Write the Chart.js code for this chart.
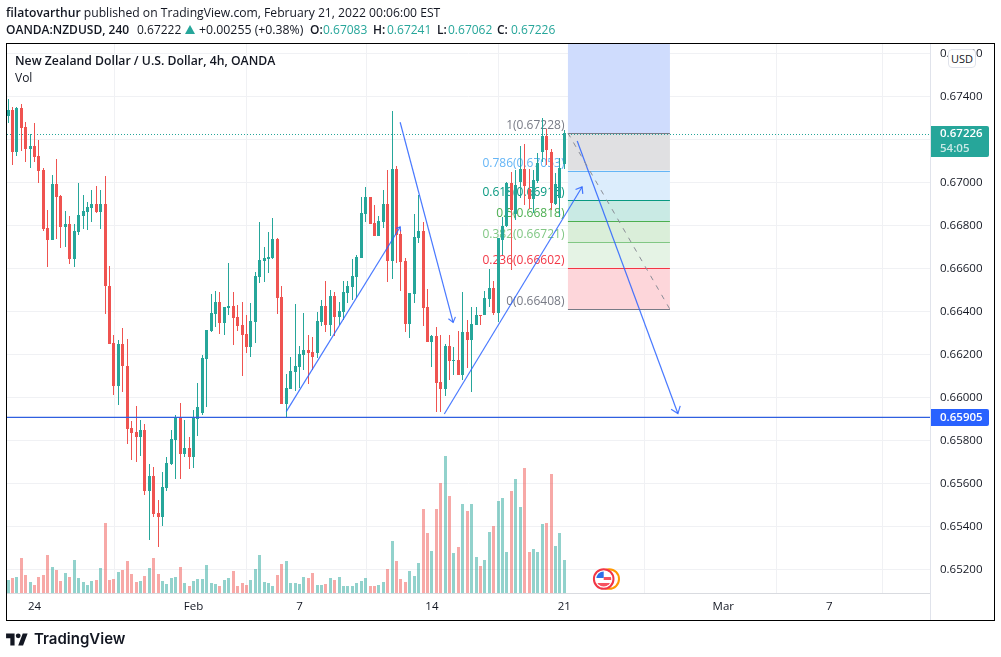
<!DOCTYPE html>
<html><head><meta charset="utf-8">
<script src="https://cdn.jsdelivr.net/npm/chart.js@4"></script>
<style>
html,body{margin:0;padding:0;background:#fff;width:1001px;height:657px;overflow:hidden}
body{font-family:"Open Sans",sans-serif;color:#131722;position:relative}
canvas{position:absolute;left:0;top:0}
.t{position:absolute;white-space:nowrap;line-height:16px}
.r{position:absolute;top:22px;white-space:nowrap;line-height:16px;font-size:12px}
#frame{position:absolute;left:6px;top:43px;width:989px;height:578px;box-sizing:border-box;border:1px solid #000;pointer-events:none}
#usd{position:absolute;left:948px;top:49px;width:28px;height:19px;box-sizing:border-box;border:1px solid #e0e3eb;border-radius:4px;background:#fff;font-size:11px;line-height:17px;text-align:center;color:#131722}
.g{color:#26a69a}
b{font-weight:600}
#tri{position:absolute;left:185px;top:25px;width:0;height:0;border-left:5px solid transparent;border-right:5px solid transparent;border-bottom:9px solid #26a69a}
</style></head><body>
<canvas id="c" width="1001" height="657"></canvas>
<div class="t" style="left:6px;top:5px;font-size:12.15px;"><b>filatovarthur</b> published on TradingView.com, February 21, 2022 00:06:00 EST</div>
<div class="r" style="left:6px"><b>OANDA:NZDUSD, 240</b></div>
<div class="r" style="left:137px">0.67222</div>
<div id="tri"></div>
<div class="r" style="left:199px;font-size:12.3px">+0.00255 (+0.38%)</div>
<div class="r" style="left:310px"><b>O:</b></div><div class="r g" style="left:323px">0.67083</div>
<div class="r" style="left:373px"><b>H:</b></div><div class="r g" style="left:387px">0.67241</div>
<div class="r" style="left:437px"><b>L:</b></div><div class="r g" style="left:448px">0.67062</div>
<div class="r" style="left:497px"><b>C:</b></div><div class="r g" style="left:511px">0.67226</div>
<div class="t" style="left:15px;top:53px;font-size:12.24px;"><b>New Zealand Dollar / U.S. Dollar, 4h, OANDA</b></div>
<div class="t" style="left:15px;top:70px;font-size:12px;">Vol</div>
<div id="frame"></div>
<div id="usd">USD</div>
<svg style="position:absolute;left:6px;top:631px" width="22" height="17" viewBox="0 0 36 28"><path fill="#131722" d="M14 24H7V12H0V4h14v20zM28 24h-8l7.5-20h8L28 24z"/><circle fill="#131722" cx="20" cy="8" r="4"/></svg>
<div class="t" style="left:34px;top:630px;font-family:Inter,sans-serif;font-weight:600;font-size:15px;line-height:18px;color:#131722">TradingView</div>
<script>
// Prices are in units of 0.00001
const opens=[67309,67335,67141,67344,67256,67154,67168,67121,67056,66786,
66732,66991,66935,66793,66805,66644,66769,66844,66862,66881,
66898,66862,66898,66517,66252,66053,66247,66145,65856,65837,
65814,65846,65563,65633,65461,65442,65577,65688,65800,65907,
65735,65763,65721,65898,65926,66177,66307,66386,66442,66345,
66414,66424,66372,66335,66293,66233,66349,66558,66633,66642,
66647,66735,66465,65968,66038,66117,66141,66196,66219,66210,
66203,66349,66424,66335,66470,66372,66396,66484,66512,66558,
66648,66851,66930,66810,66749,66814,66898,66633,67061,66758,
66633,66340,66479,66740,66772,66419,66256,66284,66070,66038,
66238,66168,66172,66103,66303,66266,66335,66382,66382,66456,
66507,66391,66730,66795,66994,66849,67000,67060,66966,66919,
67006,67138,67215,67141,66900,66924,67083];
const highs=[67386,67347,67347,67363,67278,67222,67275,67196,67065,66870,
67033,67107,66940,66865,66842,66805,66996,66940,66907,66963,
66982,66963,67028,66610,66289,66265,66321,66270,65888,65958,
65893,65874,65688,65674,65521,65651,65721,65846,65916,65972,
65893,65814,65940,66065,66195,66311,66479,66493,66489,66419,
66624,66489,66428,66442,66382,66438,66582,66814,66698,66768,
66833,66740,66517,66107,66186,66433,66238,66391,66289,66281,
66397,66452,66540,66498,66489,66442,66540,66540,66642,66661,
66929,66977,66930,66893,66842,66963,67056,67330,67075,66777,
66647,66484,66851,66940,66814,66501,66289,66326,66289,66247,
66289,66234,66307,66489,66358,66419,66419,66382,66492,66596,
66540,66738,66839,67001,67048,67055,67167,67176,67059,67055,
67136,67296,67245,67152,67040,67110,67241];
const lows=[67276,67081,67123,67146,67095,67067,67095,66997,66774,66607,
66732,66737,66695,66700,66620,66607,66755,66783,66779,66816,
66856,66783,66388,66248,66010,65963,66025,65782,65707,65698,
65726,65544,65335,65442,65302,65400,65563,65684,65619,65619,
65721,65665,65670,65819,65916,65953,66303,66326,66293,66289,
66382,66242,66307,66098,66205,66186,66252,66531,66535,66577,
66642,66386,65968,65901,66038,66030,66041,66126,66061,66126,
66180,66331,66303,66284,66284,66335,66358,66436,66452,66459,
66648,66814,66805,66749,66749,66786,66535,66549,66622,66493,
66303,66275,66439,66715,66328,66255,66138,65931,65931,66005,
66080,66103,66103,66080,66134,66024,66335,66335,66382,66420,
66382,66349,66660,66792,66590,66823,66924,66893,66873,66854,
66994,67094,67079,66870,66893,66839,67062];
const closes=[67335,67141,67344,67253,67155,67168,67118,67053,66783,66732,
66991,66932,66793,66805,66644,66772,66847,66865,66884,66898,
66862,66898,66514,66248,66053,66247,66142,65852,65833,65814,
65846,65563,65633,65456,65442,65581,65693,65805,65907,65735,
65763,65721,65907,65953,66181,66311,66391,66442,66345,66419,
66424,66368,66331,66289,66233,66354,66563,66638,66647,66651,
66735,66461,65968,66042,66121,66145,66200,66219,66203,66188,
66354,66424,66335,66470,66374,66400,66489,66517,66563,66651,
66856,66930,66805,66749,66819,66898,66633,67061,66754,66628,
66340,66484,66744,66772,66414,66255,66284,66066,66038,66238,
66168,66172,66103,66303,66266,66340,66382,66377,66461,66507,
66391,66738,66795,66997,66870,66984,67060,66981,66919,67009,
67090,67215,67148,66904,66989,67063,67226];
const volumes=[39,45,48,105,54,33,24,48,54,114,
78,69,36,60,48,99,45,33,24,36,
39,75,210,39,42,63,69,96,57,33,
36,51,75,105,57,36,27,45,48,78,
30,21,36,42,42,84,30,27,21,39,
45,66,21,30,24,39,72,114,33,30,
21,54,87,96,30,30,27,48,45,60,
24,24,27,45,39,48,21,21,21,30,
36,45,21,21,24,33,72,156,96,42,
33,66,51,90,252,180,126,252,330,411,
291,120,138,267,246,267,108,81,99,183,
201,276,285,123,306,342,258,375,123,132,
123,207,210,357,141,180,99];
const xTickIndex=[6,42,66,96,126,162,186];
const xTickLabels=['24','Feb','7','14','21','Mar','7'];
const yTickValues=[67600,67400,67200,67000,66800,66600,66400,66200,66000,65800,65600,65400,65200];
const lastPrice=67226, supportPrice=65905, countdown='54:05';
const fibStart=126.7, fibEnd=149.8;
const fibRatios=['1','0.786','0.618','0.5','0.382','0.236','0'];
const fibPrices=[67228,67053,66915,66818,66721,66602,66408];
const fibLineColors=['#787b86','#64b5f6','#089981','#4caf50','#81c784','#f23645','#787b86'];
const fibFills=['#cfdcfd','#e0e0e2','#dcedfc','#c9eae4','#daeed9','#e5f3e5','#fdd6da'];
const arrowA=[{x:62.9,y:65932},{x:88.7,y:66791}];
const arrowB=[{x:88.7,y:67278},{x:100.7,y:66347}];
const arrowC=[{x:98.7,y:65921},{x:129.9,y:66977}];
const arrowD=[{x:128.8,y:67191},{x:151.6,y:65923}];
const fibDiagonal=[{x:fibStart,y:67228},{x:fibEnd,y:66408}];
const arrowHeads=[4.5,6,7,8];

const UP='#26a69a',DOWN='#ef5350',BLUE='#2962ff';
const XMIN=-0.34,XMAX=208.7,YMIN=65088.4,YMAX=67641.9,VMAX=1647;
const FONT='"Open Sans",sans-serif';
const idx=opens.map((_,i)=>i);
const col=idx.map(i=>closes[i]>=opens[i]?UP:DOWN);
const volCol=idx.map(i=>closes[i]>=opens[i]?'rgba(38,166,154,0.5)':'rgba(239,83,80,0.5)');

const snap={id:'snap',afterDatasetsUpdate(ch){
  ch.getSortedVisibleDatasetMetas().forEach(m=>{ if(m.type!=='bar')return;
    m.data.forEach(el=>{ el.x=Math.floor(el.x-0.5)+0.5; el.y=Math.round(el.y); el.base=Math.round(el.base);
      if(el.y===el.base) el.base=el.y+1; });
  });
}};
const fib={id:'fib',beforeDatasetsDraw(ch){
  const c=ch.ctx,xs=ch.scales.x,ys=ch.scales.y,a=ch.chartArea;
  const x0=xs.getPixelForValue(fibStart),x1=xs.getPixelForValue(fibEnd);
  c.save();
  const rows=[YMAX].concat(fibPrices);
  for(let i=0;i<fibFills.length;i++){
    const t=ys.getPixelForValue(rows[i]),b=ys.getPixelForValue(rows[i+1]);
    c.fillStyle=fibFills[i]; c.fillRect(x0,t,x1-x0,b-t);
  }
  fibPrices.forEach((p,i)=>{
    const y=Math.round(ys.getPixelForValue(p))+0.5;
    c.strokeStyle=fibLineColors[i]; c.lineWidth=1;
    c.beginPath(); c.moveTo(x0,y); c.lineTo(x1,y); c.stroke();
    c.fillStyle=fibLineColors[i]; c.font='12px '+FONT; c.textAlign='right'; c.textBaseline='middle';
    c.fillText(fibRatios[i]+'('+(p/100000).toFixed(5)+')',x0-3.5,y-7.5);
  });
  // last price dotted line, on a whole pixel row
  const ly=Math.round(ys.getPixelForValue(lastPrice)+0.5)+0.5;
  c.strokeStyle=UP;c.lineWidth=1;c.setLineDash([1,2]);
  c.beginPath();c.moveTo(a.left,ly);c.lineTo(a.right,ly);c.stroke();
  c.restore();
},
afterDraw(ch){
  const c=ch.ctx,xs=ch.scales.x,ys=ch.scales.y,a=ch.chartArea;
  c.save();
  // arrow heads
  [arrowA,arrowB,arrowC,arrowD].forEach((l,k)=>{
    const x1=xs.getPixelForValue(l[1].x),y1=ys.getPixelForValue(l[1].y),
          x0=xs.getPixelForValue(l[0].x),y0=ys.getPixelForValue(l[0].y);
    const ang=Math.atan2(y1-y0,x1-x0),L=arrowHeads[k],W=0.65;
    c.strokeStyle=BLUE;c.globalAlpha=0.85;c.lineWidth=1.2;c.beginPath();
    c.moveTo(x1-L*Math.cos(ang-W),y1-L*Math.sin(ang-W));c.lineTo(x1,y1);
    c.lineTo(x1-L*Math.cos(ang+W),y1-L*Math.sin(ang+W));c.stroke();
  });
  c.globalAlpha=1;
  // axis separators
  c.strokeStyle='#e0e3eb';c.lineWidth=1;
  c.beginPath();c.moveTo(930.5,44);c.lineTo(930.5,620);c.stroke();
  // price labels
  function box(y,h,color){c.fillStyle=color;c.beginPath();c.roundRect(931,y,58,h,[0,2,2,0]);c.fill();}
  const ly=ys.getPixelForValue(lastPrice),sy=ys.getPixelForValue(supportPrice);
  box(Math.round(ly)-7,31,UP);
  c.textAlign='left';c.textBaseline='middle';
  c.fillStyle='#fff';c.font='600 11.5px '+FONT;
  c.fillText((lastPrice/100000).toFixed(5),940,ly+0.5);
  c.fillStyle='rgba(255,255,255,0.75)';c.font='600 11.5px '+FONT;
  c.fillText(countdown,940,ly+15);
  box(Math.round(sy)-8,17,BLUE);
  c.fillStyle='#fff';c.font='600 11.5px '+FONT;
  c.fillText((supportPrice/100000).toFixed(5),940,sy+0.5);
  // event flag
  const fx=xs.getPixelForValue(134.8),fy=a.bottom-14;
  c.lineWidth=2;
  c.strokeStyle='#ff9800';c.fillStyle='#fff';c.beginPath();c.arc(fx+5.5,fy,9.8,0,7);c.fill();c.stroke();
  c.strokeStyle='#f23645';c.beginPath();c.arc(fx,fy,9.8,0,7);c.fill();c.stroke();
  c.save();c.beginPath();c.arc(fx,fy,7.6,0,7);c.clip();
  c.fillStyle='#f7525f';c.fillRect(fx-8,fy+4,16,4);c.fillRect(fx,fy-2,8,3);
  c.fillStyle='#2f6fe8';c.fillRect(fx-8,fy-8,8,7);
  c.restore();
  c.restore();
}};
const wicks={type:'bar',label:'wick',order:3,yAxisID:'y',grouped:false,barThickness:1,borderWidth:0,inflateAmount:0,backgroundColor:col,
  data:idx.map(i=>({x:i,y:[lows[i],highs[i]]}))};
const bodies={type:'bar',label:'body',order:2,yAxisID:'y',grouped:false,barThickness:3,borderWidth:0,inflateAmount:0,backgroundColor:col,
  data:idx.map(i=>({x:i,y:[Math.min(opens[i],closes[i]),Math.max(opens[i],closes[i])]}))};
const vols={type:'bar',label:'Vol',order:5,yAxisID:'v',grouped:false,barThickness:3,borderWidth:0,inflateAmount:0,backgroundColor:volCol,
  data:idx.map(i=>({x:i,y:volumes[i]}))};
const line=(label,data,color,extra)=>Object.assign({type:'line',label,data,yAxisID:'y',order:1,borderColor:color,borderWidth:1,pointRadius:0,fill:false,tension:0,clip:true},extra||{});
new Chart(document.getElementById('c'),{
  type:'bar',
  data:{datasets:[
    vols,wicks,bodies,
    line('support',[{x:XMIN,y:supportPrice},{x:XMAX,y:supportPrice}],'#2f5fe0',{borderWidth:1.2}),
    line('fibDiag',fibDiagonal,'#8a8d96',{borderDash:[5,6]}),
    line('a',arrowA,'rgba(41,98,255,0.85)',{borderWidth:1.2}),
    line('b',arrowB,'rgba(41,98,255,0.85)',{borderWidth:1.2}),
    line('c',arrowC,'rgba(41,98,255,0.85)',{borderWidth:1.2}),
    line('d',arrowD,'rgba(41,98,255,0.85)',{borderWidth:1.2})
  ]},
  plugins:[snap,fib],
  options:{
    responsive:false,animation:false,devicePixelRatio:1,
    layout:{padding:{left:7,top:44,right:0,bottom:0}},
    plugins:{legend:{display:false},tooltip:{enabled:false}},
    interaction:{mode:null},
    font:{family:FONT},
    scales:{
      x:{type:'linear',position:'bottom',offset:false,min:XMIN,max:XMAX,
        afterBuildTicks(s){s.ticks=xTickIndex.map(v=>({value:v}));},
        afterFit(s){s.height=64;},
        grid:{color:'#f0f1f4',drawTicks:false},
        border:{color:'#d9dbe0'},
        ticks:{padding:7,maxRotation:0,autoSkip:false,labelOffset:-0.5,color:'#131722',font:{family:FONT,size:11.5},
          callback(v){const k=xTickIndex.indexOf(v);return k>=0?xTickLabels[k]:'';}}},
      y:{type:'linear',position:'right',min:YMIN,max:YMAX,
        afterBuildTicks(s){s.ticks=yTickValues.map(v=>({value:v}));},
        afterFit(s){s.width=71;},
        grid:{color:'#f0f1f4',drawTicks:false},
        border:{color:'#e0e3eb'},
        ticks:{padding:10,autoSkip:false,labelOffset:1,color:'#131722',font:{family:FONT,size:11.5},
          callback(v){return (v/100000).toFixed(5);}}},
      v:{type:'linear',display:false,min:0,max:VMAX}
    }
  }
});
</script>
</body></html>
